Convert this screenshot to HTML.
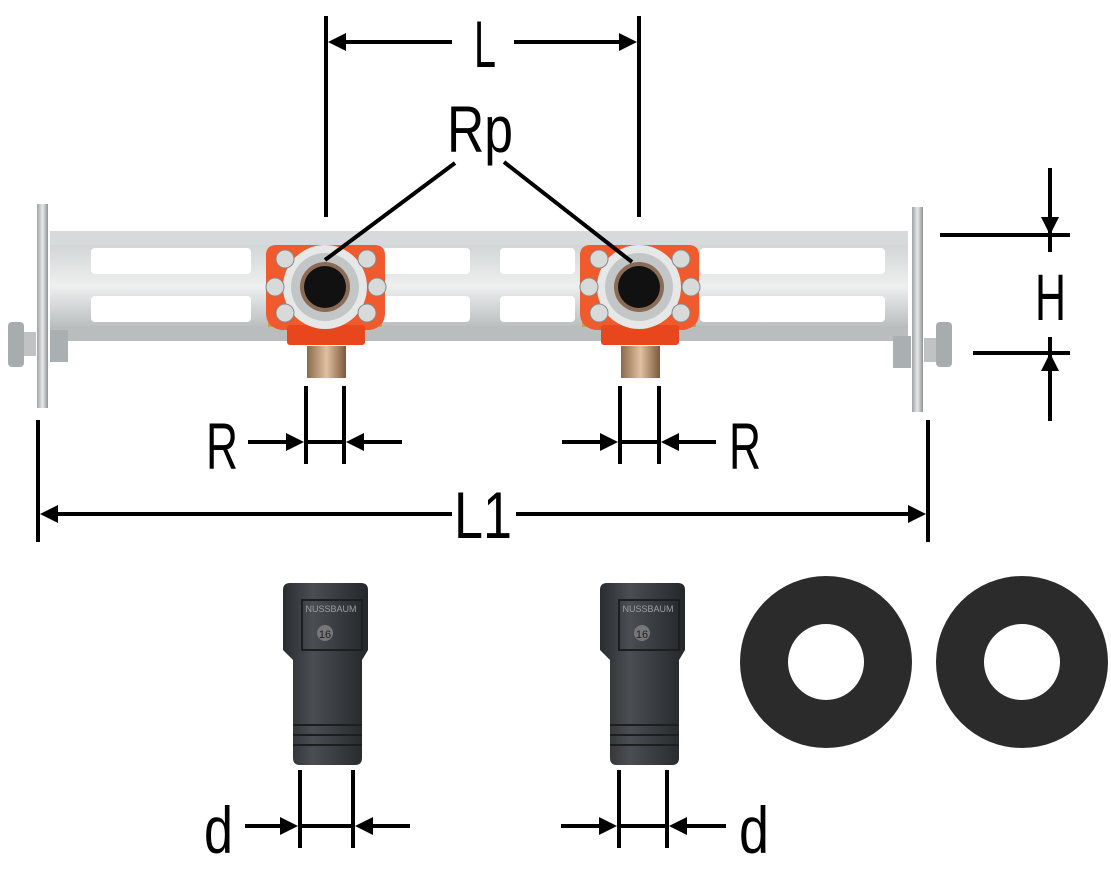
<!DOCTYPE html>
<html><head><meta charset="utf-8"><style>
html,body{margin:0;padding:0;background:#fff;}
svg{display:block;}
text{font-family:"Liberation Sans",sans-serif;fill:#000;}
</style></head><body>
<svg width="1111" height="871" viewBox="0 0 1111 871" xmlns="http://www.w3.org/2000/svg">
<defs>
<linearGradient id="rail" x1="0" y1="0" x2="0" y2="1">
<stop offset="0" stop-color="#c9cccc"/><stop offset="0.5" stop-color="#eef0f0"/><stop offset="1" stop-color="#a9adae"/>
</linearGradient>
<linearGradient id="plate" x1="0" y1="0" x2="1" y2="0">
<stop offset="0" stop-color="#9ea2a3"/><stop offset="0.5" stop-color="#e8eaea"/><stop offset="1" stop-color="#8f9394"/>
</linearGradient>
<linearGradient id="brass" x1="0" y1="0" x2="1" y2="0">
<stop offset="0" stop-color="#8a6a4a"/><stop offset="0.5" stop-color="#e0c0a0"/><stop offset="1" stop-color="#7a5a3a"/>
</linearGradient>
<linearGradient id="sleeve" x1="0" y1="0" x2="1" y2="0">
<stop offset="0" stop-color="#2a2d30"/><stop offset="0.35" stop-color="#4a4e52"/><stop offset="1" stop-color="#24272a"/>
</linearGradient>
<g id="fit">
<rect x="-57" y="-38" width="114" height="78" fill="#c9a24a"/>
<path d="M-59,-32 Q-59,-42 -48,-42 L49,-42 Q60,-42 60,-32 L60,26 Q60,40 45,43 L-44,43 Q-59,40 -59,26 Z" fill="#f05a2c"/>
<rect x="-38" y="38" width="78" height="20" rx="3" fill="#e8471e"/>
<rect x="-18" y="59" width="39" height="32" fill="url(#brass)"/>
<circle cx="0" cy="0" r="42" fill="#e6e8e8"/>
<circle cx="0" cy="0" r="34" fill="#c3c6c7"/>
<circle cx="0" cy="0" r="25" fill="#8a6b55"/>
<circle cx="0" cy="0" r="21" fill="#111"/>
<circle cx="-40" cy="-28" r="9" fill="#d8dada" stroke="#888"/>
<circle cx="42" cy="-28" r="9" fill="#d8dada" stroke="#888"/>
<circle cx="-40" cy="26" r="9" fill="#d8dada" stroke="#888"/>
<circle cx="42" cy="26" r="9" fill="#d8dada" stroke="#888"/>
<circle cx="-50" cy="0" r="9" fill="#d8dada" stroke="#888"/>
<circle cx="52" cy="0" r="9" fill="#d8dada" stroke="#888"/>
</g>
<g id="slv">
<path d="M283,590 Q283,583 290,583 L361,583 Q368,583 368,590 L368,650 L362,660 L362,758 Q362,765 355,765 L300,765 Q293,765 293,758 L293,660 L283,650 Z" fill="url(#sleeve)"/>
<rect x="302" y="600" width="60" height="50" fill="none" stroke="#1c1e20" stroke-width="2"/>
<line x1="293" y1="725" x2="362" y2="725" stroke="#1c1e20" stroke-width="2"/>
<line x1="293" y1="735" x2="362" y2="735" stroke="#1c1e20" stroke-width="2"/>
<line x1="293" y1="745" x2="362" y2="745" stroke="#1c1e20" stroke-width="2"/>
<text x="331" y="612" font-size="9" text-anchor="middle" style="fill:#9aa0a4">NUSSBAUM</text>
<circle cx="325" cy="633" r="8" fill="#777"/>
<text x="325" y="638" font-size="11" text-anchor="middle" style="fill:#222">16</text>
</g>
</defs>

<rect x="50" y="231" width="858" height="110" fill="url(#rail)"/>
<rect x="50" y="231" width="858" height="14" fill="#d7dada"/>
<rect x="50" y="326" width="858" height="15" fill="#b9bdbe"/>
<g fill="#fff">
<rect x="91" y="248" width="160" height="26" rx="4"/>
<rect x="91" y="296" width="160" height="26" rx="4"/>
<rect x="370" y="248" width="100" height="26" rx="4"/>
<rect x="370" y="296" width="100" height="26" rx="4"/>
<rect x="500" y="248" width="75" height="26" rx="4"/>
<rect x="500" y="296" width="75" height="26" rx="4"/>
<rect x="700" y="248" width="185" height="26" rx="4"/>
<rect x="700" y="296" width="185" height="26" rx="4"/>
</g>
<rect x="37" y="204" width="11" height="204" fill="url(#plate)"/>
<rect x="912" y="207" width="11" height="205" fill="url(#plate)"/>
<rect x="50" y="330" width="18" height="32" fill="#aab0b1"/>
<rect x="22" y="332" width="14" height="24" fill="#bfc3c4"/>
<rect x="8" y="322" width="16" height="45" rx="4" fill="#a7acad"/>
<rect x="893" y="336" width="18" height="32" fill="#aab0b1"/>
<rect x="924" y="338" width="14" height="24" fill="#bfc3c4"/>
<rect x="936" y="322" width="16" height="45" rx="4" fill="#a7acad"/>

<use href="#fit" x="325" y="287"/>
<use href="#fit" x="639" y="287"/>

<use href="#slv"/>
<use href="#slv" x="317"/>

<path fill-rule="evenodd" fill="#2b2b2b" d="M740,662 a86,86 0 1,0 172,0 a86,86 0 1,0 -172,0 Z M788,662 a38,38 0 1,0 76,0 a38,38 0 1,0 -76,0 Z"/>
<path fill-rule="evenodd" fill="#2b2b2b" d="M936,662 a86,86 0 1,0 172,0 a86,86 0 1,0 -172,0 Z M984,662 a38,38 0 1,0 76,0 a38,38 0 1,0 -76,0 Z"/>

<g stroke="#000" stroke-width="4" fill="none">
<line x1="326" y1="16" x2="326" y2="217"/>
<line x1="639" y1="16" x2="639" y2="217"/>
<line x1="340" y1="42" x2="452" y2="42"/>
<line x1="514" y1="42" x2="625" y2="42"/>
<line x1="455" y1="163" x2="325" y2="260"/>
<line x1="504" y1="162" x2="632" y2="262"/>
<line x1="940" y1="235" x2="1070" y2="235"/>
<line x1="973" y1="353" x2="1070" y2="353"/>
<line x1="1050" y1="168" x2="1050" y2="220"/>
<line x1="1050" y1="228" x2="1050" y2="252"/>
<line x1="1050" y1="337" x2="1050" y2="360"/>
<line x1="1050" y1="368" x2="1050" y2="421"/>
<line x1="306" y1="386" x2="306" y2="464"/>
<line x1="344" y1="386" x2="344" y2="464"/>
<line x1="248" y1="442" x2="292" y2="442"/>
<line x1="306" y1="442" x2="344" y2="442"/>
<line x1="358" y1="442" x2="402" y2="442"/>
<line x1="620" y1="386" x2="620" y2="464"/>
<line x1="659" y1="386" x2="659" y2="464"/>
<line x1="562" y1="442" x2="606" y2="442"/>
<line x1="620" y1="442" x2="659" y2="442"/>
<line x1="673" y1="442" x2="716" y2="442"/>
<line x1="38" y1="420" x2="38" y2="542"/>
<line x1="928" y1="420" x2="928" y2="542"/>
<line x1="52" y1="514" x2="452" y2="514"/>
<line x1="516" y1="514" x2="914" y2="514"/>
<line x1="300" y1="770" x2="300" y2="848"/>
<line x1="353" y1="770" x2="353" y2="848"/>
<line x1="245" y1="826" x2="287" y2="826"/>
<line x1="300" y1="826" x2="353" y2="826"/>
<line x1="367" y1="826" x2="410" y2="826"/>
<line x1="619" y1="770" x2="619" y2="848"/>
<line x1="667" y1="770" x2="667" y2="848"/>
<line x1="561" y1="826" x2="605" y2="826"/>
<line x1="619" y1="826" x2="667" y2="826"/>
<line x1="681" y1="826" x2="726" y2="826"/>
</g>
<g fill="#000">
<polygon points="328,42 346,33 346,51"/>
<polygon points="637,42 619,33 619,51"/>
<polygon points="1050,235 1041,217 1059,217"/>
<polygon points="1050,353 1041,371 1059,371"/>
<polygon points="304,442 286,433 286,451"/>
<polygon points="346,442 364,433 364,451"/>
<polygon points="618,442 600,433 600,451"/>
<polygon points="661,442 679,433 679,451"/>
<polygon points="40,514 58,505 58,523"/>
<polygon points="926,514 908,505 908,523"/>
<polygon points="298,826 280,817 280,835"/>
<polygon points="355,826 373,817 373,835"/>
<polygon points="617,826 599,817 599,835"/>
<polygon points="669,826 687,817 687,835"/>
</g>
<g font-size="66">
<text x="474" y="67" textLength="22" lengthAdjust="spacingAndGlyphs">L</text>
<text x="447" y="152" textLength="66" lengthAdjust="spacingAndGlyphs">Rp</text>
<text x="1035" y="320" textLength="31" lengthAdjust="spacingAndGlyphs">H</text>
<text x="206" y="469" textLength="32" lengthAdjust="spacingAndGlyphs">R</text>
<text x="729" y="469" textLength="32" lengthAdjust="spacingAndGlyphs">R</text>
<text x="454" y="538" textLength="58" lengthAdjust="spacingAndGlyphs">L1</text>
<text x="204" y="853" textLength="29" lengthAdjust="spacingAndGlyphs">d</text>
<text x="739" y="853" textLength="30" lengthAdjust="spacingAndGlyphs">d</text>
</g>
</svg>
</body></html>
